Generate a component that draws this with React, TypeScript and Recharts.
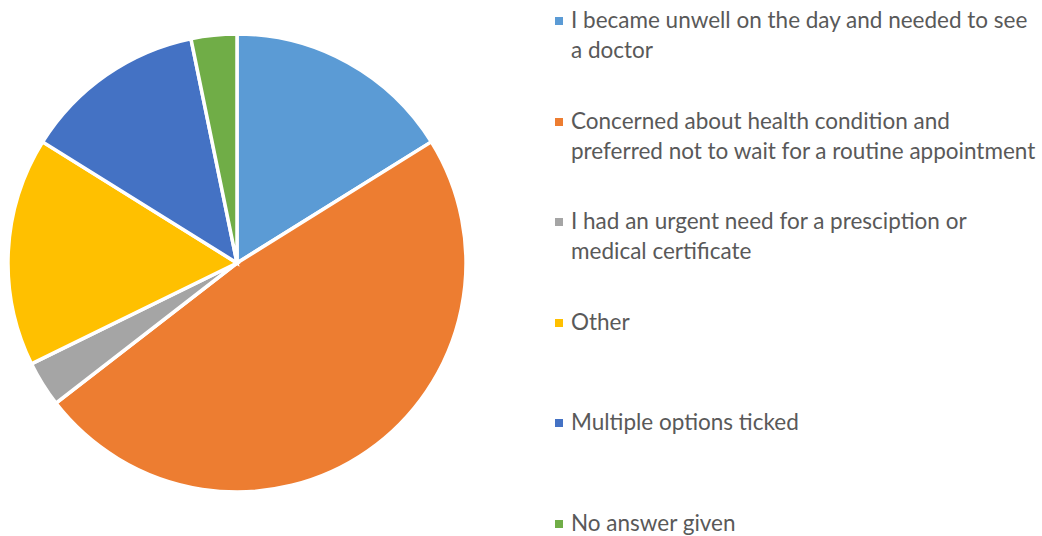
import React from "react";
import { PieChart, Pie, Cell, Legend } from "recharts";

const categories = [
  "I became unwell on the day and needed to see a doctor",
  "Concerned about health condition and preferred not to wait for a routine appointment",
  "I had an urgent need for a presciption or medical certificate",
  "Other",
  "Multiple options ticked",
  "No answer given",
];
const values = [5, 15, 1, 5, 4, 1];
const colors = ["#5B9BD5", "#ED7D31", "#A5A5A5", "#FFC000", "#4472C4", "#70AD47"];

const data = categories.map((name, i) => ({ name, value: values[i] }));

const FONT = "Lato, 'Open Sans', sans-serif";

const renderLegend = () => (
  <div style={{ position: "relative", width: 488, height: 536 }}>
    {categories.map((name, i) => (
      <div
        key={name}
        style={{
          position: "absolute",
          left: 0,
          top: 5 + i * 100.6,
          width: 488,
          display: "flex",
          alignItems: "flex-start",
        }}
      >
        <div
          style={{
            width: 8,
            height: 8,
            background: colors[i],
            marginTop: 12,
            marginLeft: 1,
            marginRight: 8,
            flex: "0 0 auto",
          }}
        />
        <div
          style={{
            fontFamily: FONT,
            fontSize: 22.5,
            lineHeight: "30px",
            color: "#595959",
            width: 470,
          }}
        >
          {name}
        </div>
      </div>
    ))}
  </div>
);

export default function App() {
  return (
    <div style={{ position: "absolute", left: 0, top: 0, width: 1042, height: 536, background: "#fff" }}>
      <PieChart width={1042} height={536} margin={{ top: 0, right: 0, bottom: 0, left: 0 }}>
        <Pie
          data={data}
          dataKey="value"
          nameKey="name"
          cx={237}
          cy={263}
          outerRadius={229}
          startAngle={90}
          endAngle={-270}
          stroke="#FFFFFF"
          strokeWidth={3.5}
          isAnimationActive={false}
        >
          {data.map((d, i) => (
            <Cell key={d.name} fill={colors[i]} />
          ))}
        </Pie>
        <Legend
          content={renderLegend}
          wrapperStyle={{ position: "absolute", left: 554, top: 0, width: 488, height: 536 }}
        />
      </PieChart>
    </div>
  );
}
